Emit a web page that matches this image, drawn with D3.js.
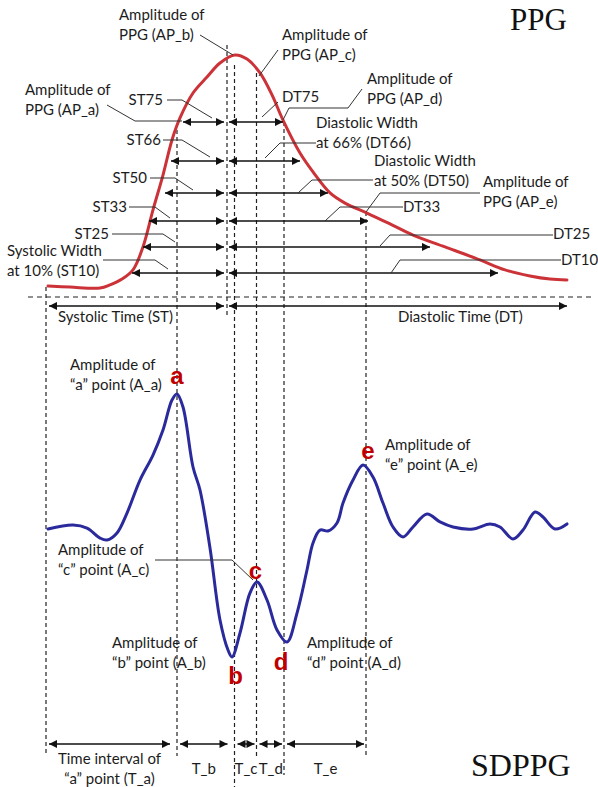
<!DOCTYPE html>
<html>
<head>
<meta charset="utf-8">
<script src="https://cdn.jsdelivr.net/npm/d3@7"></script>
<style>
  body { margin: 0; background: #fff; }
  svg text { font-family: Lato, "Open Sans", sans-serif; font-size: 15px; fill: #1c1c1c; }
</style>
</head>
<body>
<script>
// PPG pulse: time in ms, amplitude in % of the systolic peak
const ppgTime = [4, 48, 108, 128, 152, 174, 194, 214, 234, 252, 268, 294, 322, 348, 378, 402, 428, 452, 474, 508, 534, 568, 598, 642, 688, 734, 798, 868, 918, 968, 1008, 1042];
const ppgAmp = [4.5, 4.1, 3.7, 5.0, 7.4, 11.2, 20.7, 36.0, 50.4, 64.9, 74.0, 84.3, 90.9, 96.7, 100, 98.3, 92.6, 83.5, 73.1, 59.5, 51.7, 43.0, 38.8, 34.7, 30.2, 25.6, 20.7, 15.3, 11.2, 8.7, 7.4, 7.0];

// second derivative (SDPPG), same time axis, amplitude in % of "a"
const sdTime = [4, 54, 82, 108, 122, 142, 162, 188, 214, 234, 252, 262, 274, 294, 308, 328, 348, 364, 372, 388, 408, 422, 442, 462, 482, 502, 522, 534, 548, 564, 582, 594, 614, 634, 654, 674, 694, 714, 734, 762, 788, 814, 854, 888, 908, 934, 954, 978, 994, 1018, 1042];
const sdAmp = [-1.5, 1.5, -0.8, -8.3, -9.8, -4.5, 10.5, 35.3, 54.1, 72.9, 95.5, 100, 90.2, 45.1, 27.8, -15.8, -69.9, -92.5, -97.7, -79.7, -49.6, -41.4, -54.9, -77.4, -86.5, -64.7, -32.3, -12.0, -2.3, -3.0, 3.0, 18.0, 35.3, 46.6, 37.6, 18.0, 0, -7.5, 0, 9.8, 3.8, 0, -1.5, 2.3, 0, -9.0, -2.3, 11.3, 7.5, -1.5, 2.3];

// systolic / diastolic widths
const widthNames = ["75", "66", "50", "33", "25", "10"];
const widthLevel = [72.3, 56.2, 43.0, 31.4, 20.7, 9.9];
const widthStart = [274, 250, 238, 206, 194, 172];
const widthEnd = [474, 508, 564, 644, 768, 904];
const stStart = 6, stEnd = 356, dtStart = 366, dtEnd = 1042;
const peakTime = 362;

// SDPPG wave points and intervals
const pointNames = ["a", "b", "c", "d", "e"];
const pointTimes = [262, 377, 421, 476, 640];
const pointAmps = [100, -97.7, -41.4, -86.5, 46.6];
const intervalNames = ["T_b", "T_c", "T_d", "T_e"];

const width = 598, height = 787;
const x = d3.scaleLinear([0, 1042], [46, 567]);
const yPpg = d3.scaleLinear([0, 100], [297, 55]);
const ySd = d3.scaleLinear([-100, 100], [660, 394]);

const svg = d3.select("body").append("svg")
  .attr("width", width)
  .attr("height", height)
  .attr("viewBox", [0, 0, width, height]);

svg.append("defs").append("marker")
  .attr("id", "arrow")
  .attr("viewBox", "0 0 10 10")
  .attr("refX", 10).attr("refY", 5)
  .attr("markerWidth", 9).attr("markerHeight", 8)
  .attr("markerUnits", "userSpaceOnUse")
  .attr("orient", "auto-start-reverse")
  .append("path")
  .attr("d", "M0,0L10,5L0,10z")
  .attr("fill", "#111");

function arrow(x1, x2, yy) {
  svg.append("line")
    .attr("x1", x1).attr("x2", x2)
    .attr("y1", yy).attr("y2", yy)
    .attr("stroke", "#111")
    .attr("stroke-width", 1.5)
    .attr("marker-start", "url(#arrow)")
    .attr("marker-end", "url(#arrow)");
}

function label(lines, x0, y0, anchor = "start") {
  const t = svg.append("text").attr("text-anchor", anchor);
  lines.forEach((s, i) => {
    t.append("tspan").attr("x", x0).attr("y", y0 + i * 20).attr("dy", "0.35em").text(s);
  });
}

// vertical guide lines (top / bottom in px)
const guides = [
  [0, 287, 756],
  [pointTimes[0], 130, 756],
  [peakTime, 45, 315],
  [pointTimes[1], 65, 787],
  [pointTimes[2], 73, 758],
  [pointTimes[3], 122, 775],
  [pointTimes[4], 212, 757],
];
svg.append("g")
  .selectAll("line")
  .data(guides)
  .join("line")
  .attr("x1", (d) => x(d[0])).attr("x2", (d) => x(d[0]))
  .attr("y1", (d) => d[1]).attr("y2", (d) => d[2])
  .attr("stroke", "#222")
  .attr("stroke-width", 1.2)
  .attr("stroke-dasharray", "4,3");

// baseline
svg.append("line")
  .attr("x1", x(-36)).attr("x2", x(1092))
  .attr("y1", yPpg(0)).attr("y2", yPpg(0))
  .attr("stroke", "#222")
  .attr("stroke-width", 1.2)
  .attr("stroke-dasharray", "5,4");

// curves
const ppgLine = d3.line()
  .x((i) => x(ppgTime[i]))
  .y((i) => yPpg(ppgAmp[i]))
  .curve(d3.curveCatmullRom.alpha(0.5));
svg.append("path")
  .attr("d", ppgLine(d3.range(ppgTime.length)))
  .attr("fill", "none")
  .attr("stroke", "#cc3338")
  .attr("stroke-width", 3)
  .attr("stroke-linecap", "round");

const sdLine = d3.line()
  .x((i) => x(sdTime[i]))
  .y((i) => ySd(sdAmp[i]))
  .curve(d3.curveCatmullRom.alpha(0.5));
svg.append("path")
  .attr("d", sdLine(d3.range(sdTime.length)))
  .attr("fill", "none")
  .attr("stroke", "#2a2a9c")
  .attr("stroke-width", 3)
  .attr("stroke-linecap", "round");

// width arrows
widthLevel.forEach((lv, i) => {
  arrow(x(widthStart[i]), x(stEnd), yPpg(lv));
  arrow(x(dtStart), x(widthEnd[i]), yPpg(lv));
});
arrow(x(stStart), x(stEnd), yPpg(-3.7));
arrow(x(dtStart), x(dtEnd), yPpg(-3.7));

// callouts (text position + leader path in px)
const callouts = [
  { text: ["Amplitude of", "PPG (AP_b)"], at: [119, 15], path: [[200, 35], [233, 55]] },
  { text: ["Amplitude of", "PPG (AP_c)"], at: [282, 35], path: [[278, 50], [259, 76]] },
  { text: ["Amplitude of", "PPG (AP_a)"], at: [25, 90], path: [[107, 105], [135, 121], [182, 121]] },
  { text: ["ST" + widthNames[0]], at: [163, 100], anchor: "end", path: [[167, 100], [182, 100], [212, 118]] },
  { text: ["ST" + widthNames[1]], at: [161, 140], anchor: "end", path: [[163, 140], [182, 140], [210, 157]] },
  { text: ["ST" + widthNames[2]], at: [147, 178], anchor: "end", path: [[150, 178], [175, 178], [193, 190]] },
  { text: ["ST" + widthNames[3]], at: [127, 207], anchor: "end", path: [[129, 207], [155, 207], [170, 218]] },
  { text: ["ST" + widthNames[4]], at: [109, 234], anchor: "end", path: [[112, 234], [163, 234], [175, 242]] },
  { text: ["Systolic Width", "at 10% (ST10)"], at: [7, 251], path: [[103, 260], [155, 260], [168, 269]] },
  { text: ["DT" + widthNames[0]], at: [282, 97], path: [[278, 102], [262, 117]] },
  { text: ["Amplitude of", "PPG (AP_d)"], at: [367, 79], path: [[362, 89], [348, 108], [289, 108], [283, 120]] },
  { text: ["Diastolic Width", "at 66% (DT66)"], at: [316, 123], path: [[316, 143], [280, 143], [265, 158]] },
  { text: ["Diastolic Width", "at 50% (DT50)"], at: [374, 161], path: [[373, 180], [312, 180], [298, 193]] },
  { text: ["Amplitude of", "PPG (AP_e)"], at: [483, 182], path: [[480, 193], [380, 193], [366, 212]] },
  { text: ["DT" + widthNames[3]], at: [403, 207], path: [[403, 207], [340, 207], [325, 221]] },
  { text: ["DT" + widthNames[4]], at: [553, 234], path: [[553, 235], [390, 235], [380, 246]] },
  { text: ["DT" + widthNames[5]], at: [561, 260], path: [[561, 260], [400, 260], [391, 273]] },
  { text: ["Systolic Time (ST)"], at: [58, 317] },
  { text: ["Diastolic Time (DT)"], at: [398, 317] },
  { text: ["Amplitude of", "“a” point (A_a)"], at: [70, 365] },
  { text: ["Amplitude of", "“c” point (A_c)"], at: [58, 550], path: [[155, 560], [232, 560], [253, 580]] },
  { text: ["Amplitude of", "“b” point (A_b)"], at: [112, 643] },
  { text: ["Amplitude of", "“d” point (A_d)"], at: [307, 643] },
  { text: ["Amplitude of", "“e” point (A_e)"], at: [385, 445] },
];

callouts.forEach((c) => {
  if (c.path) {
    svg.append("path")
      .attr("d", d3.line()(c.path))
      .attr("fill", "none")
      .attr("stroke", "#333")
      .attr("stroke-width", 1);
  }
  label(c.text, c.at[0], c.at[1], c.anchor);
});

// red point letters, baseline offset from the wave point
const letterOffset = [[0, -10], [1, 27], [-1, -3], [-3, 28], [2, -6]];
svg.append("g")
  .selectAll("text")
  .data(pointNames)
  .join("text")
  .attr("x", (d, i) => x(pointTimes[i]) + letterOffset[i][0])
  .attr("y", (d, i) => ySd(pointAmps[i]) + letterOffset[i][1])
  .attr("text-anchor", "middle")
  .style("font-family", "'Liberation Sans', Arial, sans-serif")
  .style("font-size", "24px")
  .style("font-weight", "bold")
  .style("fill", "#c00000")
  .text((d) => d);

// time intervals along the bottom
const bounds = [0].concat(pointTimes);
const yInt = 744;
for (let i = 0; i < bounds.length - 1; i++) {
  const x1 = x(bounds[i]) + 3, x2 = x(bounds[i + 1]) - (i < 2 ? 7 : 2);
  arrow(x1, x2, yInt);
  if (i === 0) {
    label(["Time interval of", "“a” point (T_a)"], (x1 + x2) / 2, 759, "middle");
  } else {
    label([intervalNames[i - 1]], (x1 + x2) / 2, 769, "middle");
  }
}

// titles
svg.append("text")
  .attr("x", 510).attr("y", 30)
  .style("font-family", "'Liberation Serif', 'Times New Roman', serif")
  .style("font-size", "31px")
  .style("fill", "#111")
  .text("PPG");
svg.append("text")
  .attr("x", 471).attr("y", 776)
  .style("font-family", "'Liberation Serif', 'Times New Roman', serif")
  .style("font-size", "32px")
  .style("fill", "#111")
  .text("SDPPG");
</script>
</body>
</html>
